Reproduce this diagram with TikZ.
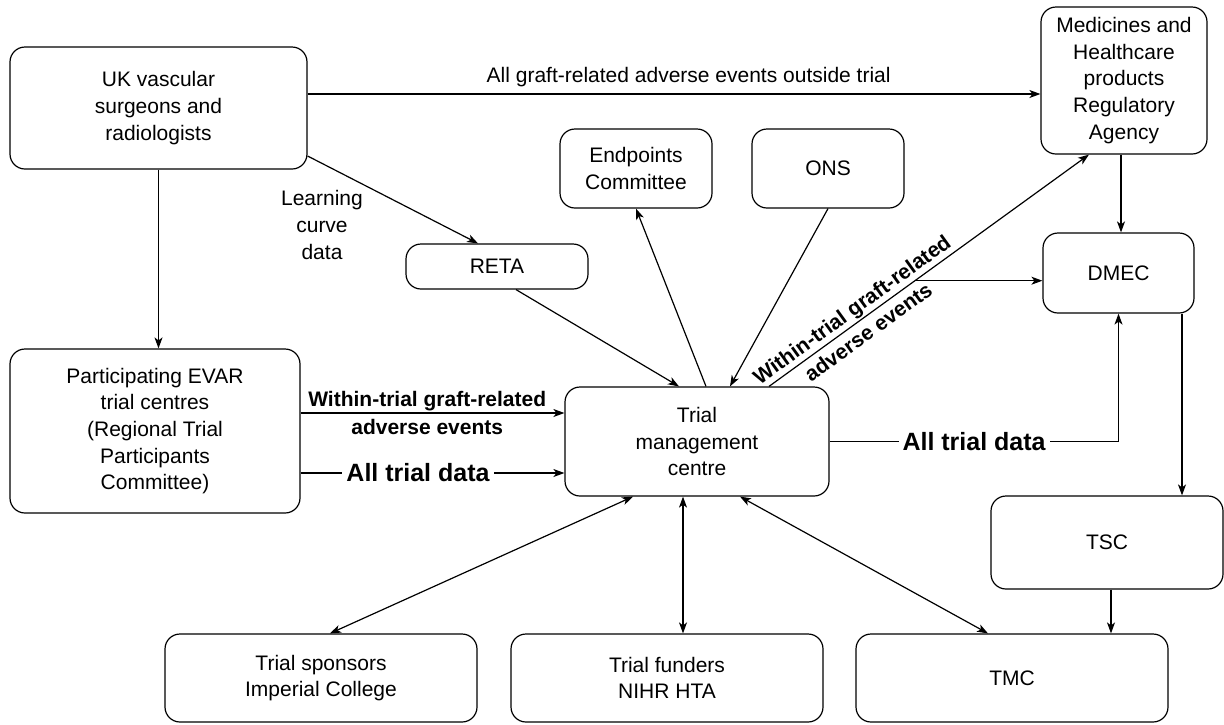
\documentclass[tikz,border=0pt]{standalone}
\usepackage{fontspec}
\setmainfont{Liberation Sans}
\usetikzlibrary{arrows.meta,calc}
\tikzset{
  box/.style={draw, line width=1.2pt, rounded corners=15pt, align=center, inner sep=0pt, font=\fontsize{21}{26.7}\selectfont},
  flow/.style={line width=1.2pt, -{Stealth[length=11pt,width=8pt,inset=3pt]}},
  both/.style={line width=1.2pt, {Stealth[length=11pt,width=8pt,inset=3pt]}-{Stealth[length=11pt,width=8pt,inset=3pt]}},
  note/.style={align=center, inner sep=2pt, font=\fontsize{21}{27}\selectfont},
  boldnote/.style={align=center, inner sep=0pt, font=\fontsize{21}{28}\selectfont\bfseries},
  bignote/.style={fill=white, inner sep=4pt, font=\fontsize{25}{30}\selectfont\bfseries}
}
\begin{document}
\begin{tikzpicture}[x=1pt,y=-1pt]
\useasboundingbox (0,0) rectangle (1224,724);
\node[box, minimum width=297pt, minimum height=122pt] (uk) at (158.5,108) {UK vascular\\surgeons and\\radiologists};
\node[box, minimum width=290pt, minimum height=164pt] (part) at (155,431) {Participating EVAR\\trial centres\\(Regional Trial\\Participants\\Committee)};
\node[box, minimum width=182pt, minimum height=45pt] (reta) at (497,266.5) {RETA};
\node[box, minimum width=152pt, minimum height=79pt] (endp) at (636,168.5) {Endpoints\\Committee};
\node[box, minimum width=152pt, minimum height=79pt] (ons) at (828,168.5) {ONS};
\node[box, minimum width=166pt, minimum height=147pt] (mhra) at (1124,80.5) {Medicines and\\Healthcare\\products\\Regulatory\\Agency};
\node[box, minimum width=151pt, minimum height=80pt] (dmec) at (1118.5,273) {DMEC};
\node[box, minimum width=264pt, minimum height=109pt] (trial) at (697,441.5) {Trial\\management\\centre};
\node[box, minimum width=232pt, minimum height=93pt] (tsc) at (1107,542.5) {TSC};
\node[box, minimum width=312pt, minimum height=88pt] (spons) at (321,678) {Trial sponsors\\Imperial College};
\node[box, minimum width=312pt, minimum height=88pt] (fund) at (667,678) {Trial funders\\NIHR HTA};
\node[box, minimum width=312pt, minimum height=88pt] (tmc) at (1012,678) {TMC};
\node[note] (lcurve) at (322,225) {Learning\\curve\\data};

\draw[flow] ([yshift=14pt]uk.east) -- node[note, pos=.52, above=5pt] {All graft-related adverse events outside trial} ([yshift=14pt]uk.east -| mhra.west);
\draw[flow] (uk.south) -- (uk.south |- part.north);
\draw[flow] ([yshift=-48pt]uk.east) -- ([xshift=-19pt]reta.north);
\draw[flow] ([xshift=19pt]reta.south) -- ([xshift=-18pt]trial.north);
\draw[flow] ([xshift=9pt]trial.north) -- (endp.south);
\draw[flow] (ons.south) -- ([xshift=33pt]trial.north);
\coordinate (split) at ($([xshift=72pt]trial.north)!0.456!([xshift=-35pt]mhra.south)$);
\draw[flow] ([xshift=72pt]trial.north) -- node[boldnote, pos=.284, sloped] {Within-trial graft-related\\adverse events} ([xshift=-35pt]mhra.south);
\draw[flow] (split) -- (split -| dmec.west);
\draw[flow] ([xshift=-3pt]mhra.south) -- ([xshift=-3pt]mhra.south |- dmec.north);
\draw[flow] (trial.east) -| node[bignote, pos=.25] {All trial data} (dmec.south);
\draw[flow] ([xshift=63.5pt]dmec.south) -- ([xshift=63.5pt]dmec.south |- tsc.north);
\draw[flow] ([xshift=4pt]tsc.south) -- ([xshift=4pt]tsc.south |- tmc.north);
\draw[flow] ([yshift=18pt]part.east) -- node[boldnote, pos=.48] {Within-trial graft-related\\adverse events} ([yshift=18pt]part.east -| trial.west);
\draw[flow] ([yshift=-42pt]part.east) -- node[bignote, pos=.445] {All trial data} ([yshift=-42pt]part.east -| trial.west);
\draw[both] ([xshift=-64pt]trial.south) -- ([xshift=9pt]spons.north);
\draw[both] ([xshift=-14pt]trial.south) -- ([xshift=-14pt]trial.south |- fund.north);
\draw[both] ([xshift=43pt]trial.south) -- ([xshift=-24pt]tmc.north);
\end{tikzpicture}
\end{document}
